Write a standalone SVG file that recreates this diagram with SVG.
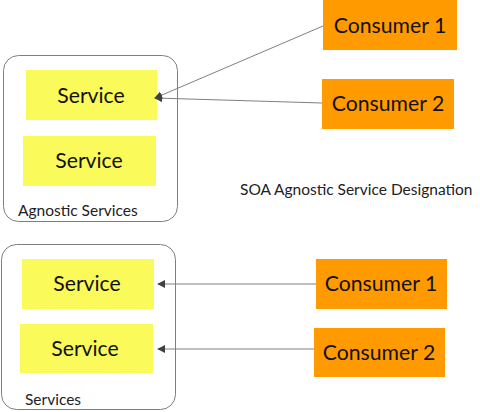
<svg xmlns="http://www.w3.org/2000/svg" width="480" height="412" viewBox="0 0 480 412">
<style>
.cont{fill:#ffffff;stroke:#7f7f7f;stroke-width:1}
.svc{fill:#fafa5a}
.con{fill:#ff9a00}
.t{font-family:Lato,"Open Sans","Liberation Sans",sans-serif;fill:#111;text-anchor:middle}
.big{font-size:21.2px}
.lbl{font-family:Lato,"Open Sans","Liberation Sans",sans-serif;fill:#222;font-size:15.5px}
.conn{stroke:#808080;stroke-width:1;fill:none;marker-end:url(#ah)}
</style>
<defs>
<marker id="ah" viewBox="0 0 10 10" refX="9" refY="5" markerWidth="8" markerHeight="8" markerUnits="userSpaceOnUse" orient="auto">
<path d="M0,0 L10,5 L0,10 z" fill="#404040"/>
</marker>
</defs>
<rect width="480" height="412" fill="#ffffff"/>
<g id="agnostic-services">
<rect class="cont" x="3.5" y="55.5" width="174" height="166" rx="15"/>
<text class="lbl" x="18" y="216">Agnostic Services</text>
</g>
<g id="services">
<rect class="cont" x="1.5" y="244.5" width="174" height="165" rx="15"/>
<text class="lbl" x="25" y="405">Services</text>
</g>
<g id="service-a1"><rect class="svc" x="26" y="70" width="131" height="50"/><text class="t big" x="91" y="103">Service</text></g>
<g id="service-a2"><rect class="svc" x="23" y="136" width="133" height="50"/><text class="t big" x="89" y="168">Service</text></g>
<g id="service-b1"><rect class="svc" x="22" y="259" width="132" height="50"/><text class="t big" x="87" y="291">Service</text></g>
<g id="service-b2"><rect class="svc" x="20" y="324" width="133" height="49"/><text class="t big" x="85" y="356">Service</text></g>
<g id="consumer-a1"><rect class="con" x="323" y="0" width="134" height="50"/><text class="t big" x="390" y="33">Consumer 1</text></g>
<g id="consumer-a2"><rect class="con" x="322" y="79" width="132" height="50"/><text class="t big" x="388" y="111">Consumer 2</text></g>
<g id="consumer-b1"><rect class="con" x="316" y="259" width="131" height="50"/><text class="t big" x="381" y="291">Consumer 1</text></g>
<g id="consumer-b2"><rect class="con" x="314" y="328" width="131" height="49"/><text class="t big" x="379" y="360">Consumer 2</text></g>
<g id="title"><text class="lbl" x="240" y="195">SOA Agnostic Service Designation</text></g>
<g id="connectors">
<line class="conn" x1="323" y1="26" x2="155" y2="98"/>
<line class="conn" x1="322" y1="103" x2="155" y2="98"/>
<line class="conn" x1="316" y1="284" x2="158" y2="284"/>
<line class="conn" x1="314" y1="349" x2="158" y2="349"/>
</g>
</svg>
